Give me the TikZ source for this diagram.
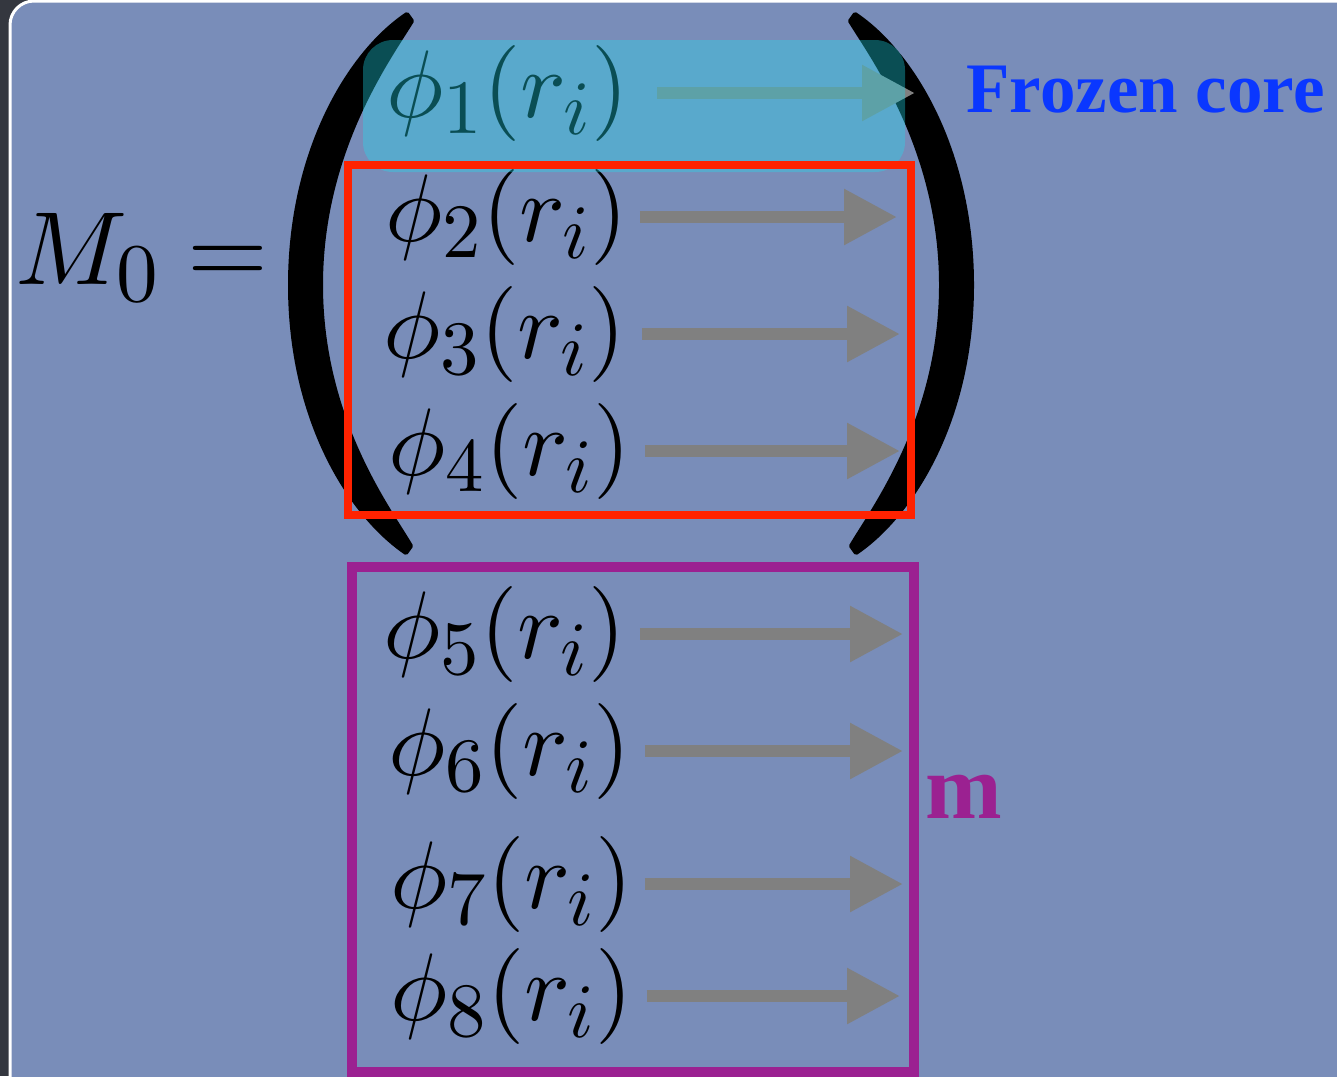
\RequirePackage{fix-cm}
\documentclass[tikz,border=0pt]{standalone}
\usepackage[no-math]{fontspec}
\newfontfamily\labelfont{Liberation Serif}
\usetikzlibrary{arrows.meta}
\DeclareFontShape{OT1}{cmr}{m}{n}{<->cmr10}{}
\DeclareFontShape{OML}{cmm}{m}{it}{<->cmmi10}{}
\DeclareMathSizes{48}{48}{38.4}{28.8}
\DeclareMathSizes{52}{52}{41.6}{31.2}

\definecolor{slideblue}{RGB}{121,141,185}
\definecolor{framedark}{RGB}{52,55,63}
\definecolor{arrowgray}{RGB}{128,128,128}
\definecolor{coreblue}{RGB}{30,224,242}
\definecolor{boxred}{RGB}{255,34,0}
\definecolor{boxpurple}{RGB}{155,33,145}
\definecolor{frozenblue}{RGB}{10,55,255}

\begin{document}
\begin{tikzpicture}[x=0.5pt, y=-0.5pt,
    bigmath/.style={font=\fontsize{52}{62}\selectfont, inner sep=0pt},
    phirow/.style={font=\fontsize{48}{58}\selectfont, inner sep=0pt, anchor=west},
    garrow/.style={draw=arrowgray, line width=6pt, -{Triangle[length=26.5pt,width=26.5pt]}},
    parenfill/.style={fill=black, draw=black, line width=2pt, line join=round},
    labeltext/.style={anchor=base west, inner sep=0pt, font=\labelfont\bfseries}]
    \clip (0,0) rectangle (1337,1076);
    \useasboundingbox (0,0) rectangle (1337,1076);
    % slide
    \fill[framedark] (0,0) rectangle (1337,1076);
    \draw[white, line width=1.5pt, fill=slideblue, rounded corners=12pt] (10,1) rectangle (1400,1120);

    % big brackets
    \foreach \s/\sx in {0/1, 1262/-1} {
        \begin{scope}[shift={(\s,0)}, xscale=\sx]
            \path[parenfill] (407,14) .. controls (350,52) and (290,150) .. (290,285)
                .. controls (290,420) and (350,515) .. (406,553) -- (411,546)
                .. controls (390,510) and (321,420) .. (321,285)
                .. controls (321,150) and (390,57) .. (412,21) -- cycle;
        \end{scope}
    }

    \node[bigmath, anchor=base west] (lhs) at (15,284) {$M_0 =$};

    % orbitals
    \foreach \i/\x/\y/\t/\sh in {1/386/93/915/14, 2/385/217/897/6, 3/383/334/900/8, 4/388/451/900/7,
                                 5/383/634/903/7, 6/388/751/903/7, 7/390/884/903/6, 8/390/996/900/7} {
        \node[phirow] (phi\i) at (\x,\y) {$\phi_{\i}(r_i)$};
        \coordinate (tip\i) at (\t,\y);
        \draw[garrow, shorten <=\sh pt] (phi\i) -- (tip\i);
    }

    \fill[coreblue, opacity=0.35, rounded corners=15pt] (363,40) rectangle (905,172);
    \draw[boxred, line width=4pt] (348,165) rectangle (911,515);
    \draw[boxpurple, line width=5pt] (352,567) rectangle (914,1072);

    \node[labeltext, text=frozenblue, font=\labelfont\bfseries\fontsize{35.5}{40}\selectfont] (frozen) at (966,112) {Frozen core};
    \node[labeltext, text=boxpurple, font=\labelfont\bfseries\fontsize{46}{50}\selectfont] (mlabel) at (925,818) {m};
\end{tikzpicture}
\end{document}
